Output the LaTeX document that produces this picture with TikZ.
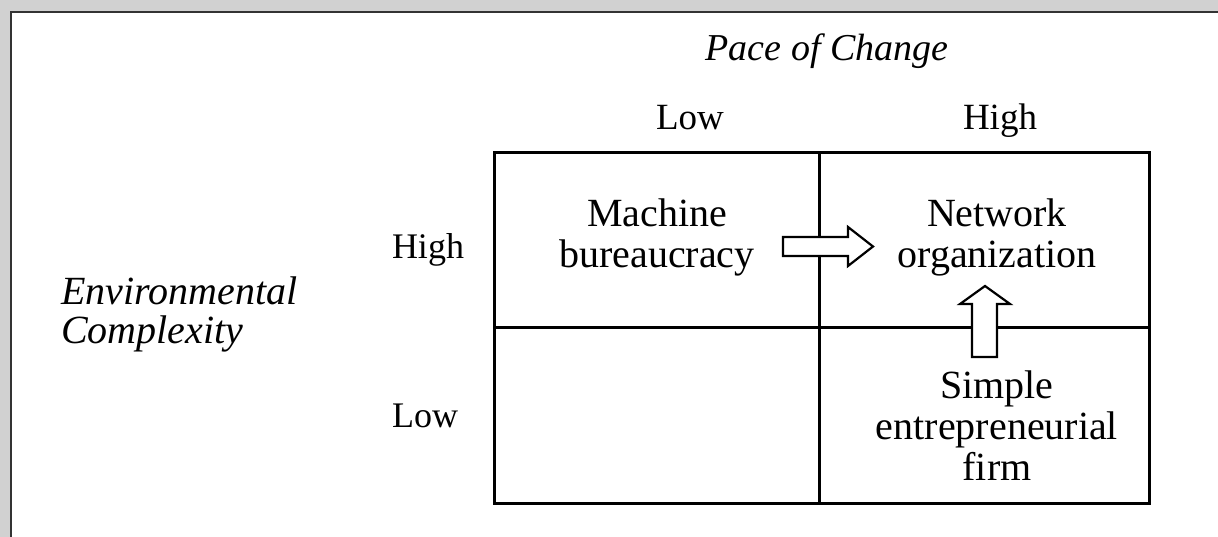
\documentclass[tikz,border=0pt]{standalone}
\usepackage{fontspec}
\setmainfont{Liberation Serif}
\begin{document}
\begin{tikzpicture}[x=1pt,y=-1pt,
  grid/.style={line width=3pt,line cap=rect},
  frameline/.style={line width=2.6pt,draw=black!80},
  celltext/.style={align=center,inner sep=0pt,font=\fontsize{40}{41}\selectfont},
  axislabel/.style={inner sep=0pt,anchor=base,font=\fontsize{36}{40}\selectfont},
  titletext/.style={inner sep=0pt,font=\fontsize{38}{40}\itshape\selectfont},
  blockarrow/.style={fill=white,draw=black,line width=2.2pt,line join=miter}]
\useasboundingbox (0,0) rectangle (1218,537);
\fill[black!18] (0,0) rectangle (1218,537);
\fill[white] (11,12) rectangle (1218,537);
\draw[frameline] (11,537) -- (11,12) -- (1218,12);
% grid
\coordinate (tl) at (494,153);
\coordinate (br) at (1149,503);
\draw[grid] (tl) rectangle (br);
\draw[grid] (819,153) -- (819,503);
\draw[grid] (494,327) -- (1149,327);
% labels
\node[titletext] (pace) at (827,51) {Pace of Change};
\node[axislabel,font=\fontsize{37}{40}\selectfont] (low1) at (690,130) {Low};
\node[axislabel,font=\fontsize{37}{40}\selectfont] (high1) at (1000,130) {High};
\node[axislabel] (high2) at (428,259) {High};
\node[axislabel] (low2) at (425,427) {Low};
\node[titletext,align=left,anchor=west,font=\fontsize{40}{39}\itshape\selectfont] (env) at (61,314) {Environmental\\Complexity};
% cell texts
\node[celltext] (mb) at (657,237) {Machine\\bureaucracy};
\node[celltext] (no) at (997,237) {Network\\organization};
\node[celltext] (sef) at (997,426) {Simple\\entrepreneurial\\firm};
% arrows
\draw[blockarrow] (783,237) -- (848,237) -- (848,227) -- (873,246.5) -- (848,266) -- (848,256) -- (783,256) -- cycle;
\draw[blockarrow] (972,357) -- (972,304) -- (960,304) -- (985,286) -- (1010,304) -- (997,304) -- (997,357) -- cycle;
\end{tikzpicture}
\end{document}
